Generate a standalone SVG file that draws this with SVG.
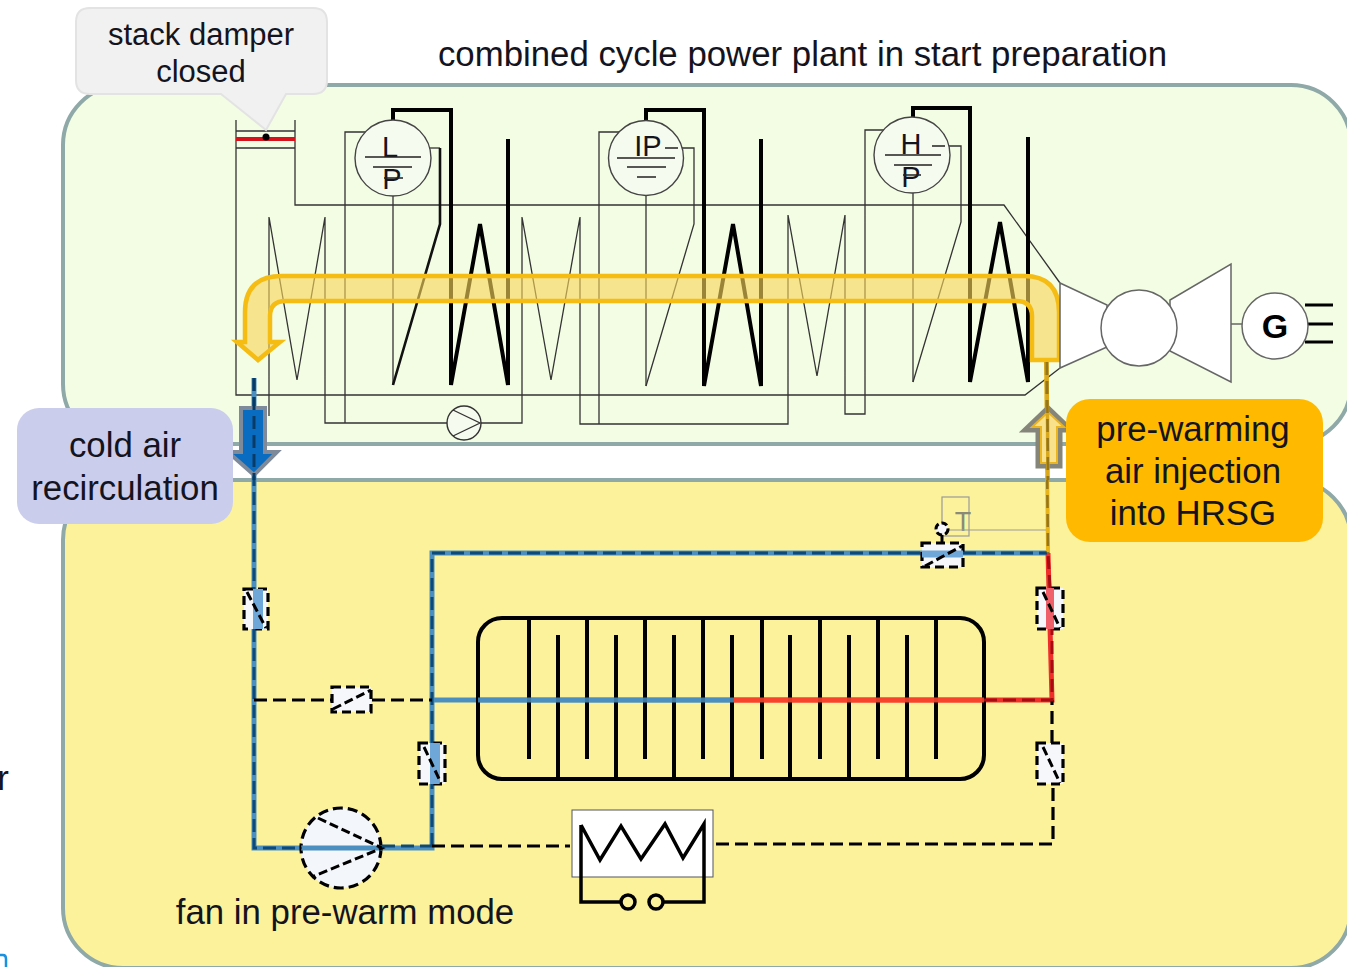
<svg xmlns="http://www.w3.org/2000/svg" width="1347" height="967" viewBox="0 0 1347 967">
<style>
text{font-family:"Liberation Sans",Arial,sans-serif;fill:#141420;text-anchor:middle}
.t{font-size:34.8px}
.call{font-size:31px}
.cap{font-size:29px}
.thin{fill:none;stroke:#333;stroke-width:1.3}
.thick{fill:none;stroke:#000;stroke-width:4}
.mid{fill:none;stroke:#111;stroke-width:2.6}
.bar{stroke:#222;stroke-width:1.3}
.dash{fill:none;stroke:#000;stroke-width:3.2;stroke-dasharray:13 6}
.db{fill:none;stroke:#0d4a78;stroke-width:3;stroke-dasharray:13 6}
.dr{fill:none;stroke:#a50d12;stroke-width:3;stroke-dasharray:13 6}
.dg{fill:none;stroke:#96761c;stroke-width:2.6;stroke-dasharray:13 6}
.blue{fill:none;stroke:#4a8fbf;stroke-width:5}
.red{fill:none;stroke:#ef2f2a;stroke-width:5}
.gold{fill:none;stroke:#e8b41c;stroke-width:4}
.dmp{fill:#f6f7fb;stroke:#000;stroke-width:3.2;stroke-dasharray:9 5}
.blade{fill:none;stroke:#000;stroke-width:3;stroke-dasharray:9 4}
.turb{fill:#fff;stroke:#666;stroke-width:1.5}
.circ{fill:#f6fbef;stroke:#444;stroke-width:1.4}
</style>
<rect width="1347" height="967" fill="#fff"/>

<g id="hrsg-panel"><rect x="63" y="85" width="1288" height="359" rx="60" fill="#f2fde4" stroke="#8fa8a8" stroke-width="4"/></g>
<g id="preheat-panel"><rect x="63" y="480" width="1288" height="488" rx="60" fill="#fdf29c" stroke="#8fa8a8" stroke-width="4"/></g>
<text x="3" y="790" class="t">r</text>
<path d="M0,955 H3 Q6,955 6,959 V967" fill="none" stroke="#1a90e0" stroke-width="2.5"/>

<g id="connectors">
  <path class="thin" d="M236,120 V395 H1025 L1060,368"/>
  <path class="thin" d="M295,120 V205 H1004 L1060,283"/>
  <path class="thin" d="M269,416 V217 L297,380 L325,217 V423 H448"/>
  <path class="thin" d="M367,132 H345 V423"/>
  <path class="thin" d="M481,423 H522 V217 L551,380 L580,217 V424 H788 V215 L817,376 L845,215 V414 H865 V130 H884"/>
  <path class="thin" d="M393,195 V385"/>
  <path class="thin" d="M412,148 H440"/>
  <path class="mid" d="M440,148 V224 L393,385"/>
  <path class="thick" d="M393,120 V110 H451 V385 L480,224 L508,385 V139"/>
  <path class="thin" d="M619,132 H599 V424"/>
  <path class="thin" d="M646,195 V386"/>
  <path class="thin" d="M665,148 H694 V224 L646,386"/>
  <path class="thick" d="M646,120 V110 H704 V386 L733,224 L761,386 V139"/>
  <path class="thin" d="M913,193 V382"/>
  <path class="thin" d="M932,146 H961 V222 L913,382"/>
  <path class="thick" d="M913,117 V108 H970 V382 L1000,222 L1028,382 V137"/>
  <path class="blue" d="M254,378 V848 H432 V553 H1047"/>
  <path class="blue" d="M432,700 H733"/>
  <path class="red" d="M733,700 H1052 L1048,553"/>
  <path class="gold" d="M1046,360 L1048,553"/>
</g>

<g id="flow-arrow"><path d="M1032,360 V316 Q1032,301 1016,301 H286 Q270,301 270,316 V342 H280 L258,360 L237,342 H245 V312 Q245,276 282,276 H1024 Q1059,276 1059,312 V360 Z" fill="#f8d55a" fill-opacity=".62" stroke="#f5bc14" stroke-width="4.500" stroke-linejoin="miter"/></g>

<g id="damper-stack">
  <path class="thin" d="M236,131 H295 M236,148 H295"/>
  <path d="M236,139 H295" stroke="#d8121c" stroke-width="4" fill="none"/>
  <circle cx="266" cy="137" r="3.5" fill="#000"/>
</g>
<g id="callout">
  <path d="M90,8 H313 Q327,8 327,22 V80 Q327,94 313,94 H286 L266,130 L221,94 H90 Q76,94 76,80 V22 Q76,8 90,8 Z" fill="#f1f1f1" stroke="#e3e3e3" stroke-width="2"/>
  <text x="201" y="45" class="call">stack damper</text>
  <text x="201" y="82" class="call">closed</text>
</g>
<text id="title" x="802.500" y="66" class="t">combined cycle power plant in start preparation</text>

<g id="lp-drum">
  <circle class="circ" cx="393" cy="158" r="38"/>
  <text x="390" y="157" class="cap">L</text>
  <text x="392" y="189" class="cap">P</text>
  <path class="bar" d="M365,157 H421 M373,167 H412 M384,178 H403"/>
</g>
<g id="ip-drum">
  <circle class="circ" cx="646" cy="158" r="37.500"/>
  <text x="648" y="156" class="cap">IP</text>
  <path class="bar" d="M617,158 H675 M627,167 H666 M637,177 H656 M665,148 H678"/>
</g>
<g id="hp-drum">
  <circle class="circ" cx="912" cy="155" r="38"/>
  <text x="911" y="154" class="cap">H</text>
  <text x="911" y="187" class="cap">P</text>
  <path class="bar" d="M885,155 H941 M894,165 H932 M903,175 H921 M932,146 H945"/>
</g>
<g id="pump">
  <circle cx="464" cy="423" r="17" fill="#f6fbef" stroke="#333" stroke-width="1.4"/>
  <path class="thin" d="M453,410 L480,423 L453,436"/>
</g>
<g id="turbine">
  <path class="turb" d="M1060,283 L1107,305 V347 L1060,368 Z"/>
  <path class="turb" d="M1231,264 V382 L1170,351 V300 Z"/>
  <circle class="turb" cx="1139" cy="328" r="38"/>
</g>
<g id="generator">
  <path d="M1231,324 H1243" stroke="#666" stroke-width="1.5"/>
  <path d="M1305,305 H1333 M1305,324 H1333 M1305,342 H1333" stroke="#000" stroke-width="3"/>
  <circle class="turb" cx="1275" cy="326" r="33"/>
  <text x="1275" y="338" font-size="34" font-weight="700" style="fill:#000">G</text>
</g>

<g id="heat-exchanger">
  <rect x="478" y="618" width="506" height="161" rx="24" fill="none" stroke="#000" stroke-width="4"/>
  <path d="M529,618 V759 M587,618 V759 M645,618 V759 M703,618 V759 M762,618 V759 M820,618 V759 M878,618 V759 M936,618 V759 M558,779 V635 M616,779 V635 M674,779 V635 M732,779 V635 M790,779 V635 M849,779 V635 M907,779 V635" stroke="#000" stroke-width="4" fill="none"/>
  <path d="M478,700 H733" stroke="#4a8fbf" stroke-width="5" stroke-opacity=".85"/>
  <path d="M733,700 H984" stroke="#f9452c" stroke-width="5" stroke-opacity=".9"/>
</g>

<g id="dampers-lower">
  <g id="damper-1">
    <rect class="dmp" x="244" y="589" width="24" height="40"/>
    <path d="M258,589 V629" stroke="#6fa8d8" stroke-width="10"/>
    <path class="blade" d="M247,592 L266,628"/>
  </g>
  <g id="damper-2">
    <rect class="dmp" x="332" y="687" width="39" height="25"/>
    <path class="blade" d="M333,709 L371,690"/>
  </g>
  <g id="damper-3">
    <rect class="dmp" x="419" y="743" width="26" height="41"/>
    <path d="M435,743 V784" stroke="#6fa8d8" stroke-width="10"/>
    <path class="blade" d="M424,747 L441,783"/>
  </g>
  <g id="damper-4">
    <rect class="dmp" x="922" y="543" width="41" height="24"/>
    <path d="M922,554 H963" stroke="#6fa8d8" stroke-width="7"/>
    <path class="blade" d="M925,566 L962,546"/>
  </g>
  <g id="damper-5">
    <rect class="dmp" x="1037" y="588" width="26" height="41"/>
    <path d="M1050,588 V629" stroke="#f0606a" stroke-width="8"/>
    <path class="blade" d="M1043,592 L1060,628"/>
  </g>
  <g id="damper-6">
    <rect class="dmp" x="1037" y="743" width="26" height="41"/>
    <path class="blade" d="M1043,747 L1060,783"/>
  </g>
</g>

<g id="fan">
  <circle cx="341" cy="848" r="40" fill="#f3f6fb" stroke="#000" stroke-width="3.2" stroke-dasharray="10 5"/>
  <path d="M301,848 H382" stroke="#4a8fbf" stroke-width="5"/>
  <path class="blade" d="M318,818 L382,848 L312,877"/>
</g>

<g id="heater">
  <rect x="572" y="810" width="141" height="67" fill="#fff" stroke="#555" stroke-width="1"/>
  <path d="M581,825 L600,860 L621,826 L641,859 L665,824 L683,858 L704,824 V902 H663 M621,902 H581 V825" fill="none" stroke="#000" stroke-width="3.500"/>
  <circle cx="628" cy="902" r="7" fill="none" stroke="#000" stroke-width="3.500"/>
  <circle cx="656" cy="902" r="7" fill="none" stroke="#000" stroke-width="3.500"/>
</g>

<g id="control">
  <rect x="942" y="497" width="27" height="39" fill="none" stroke="#999" stroke-width="1.2"/>
  <text x="963" y="531" font-size="27" style="fill:#8a8a78">T</text>
  <path d="M948,530 H1046" stroke="#999" stroke-width="1.2"/>
  <path d="M942,535 V543" stroke="#000" stroke-width="3"/>
  <circle cx="942" cy="529" r="6" fill="#f6f7fb" stroke="#000" stroke-width="3" stroke-dasharray="6 3"/>
</g>

<g id="connector-dashes">
  <path class="db" d="M254,378 V589 M254,629 V848 H302 M382,846 H432 M432,846 V784 M432,743 V553 H922 M963,553 H1047"/>
  <path class="dash" d="M254,700 H332 M372,700 H432 M432,846 H570 M716,844 H1053 V784 M1052,743 V700"/>
  <path class="dr" d="M984,700 H1052 V629 M1050,588 L1048,553"/>
  <path class="dg" d="M1046,362 L1048,553"/>
</g>

<g id="arrow-out">
  <path d="M241,408 H265 V452 H277 L254,475 L228,452 H241 Z" fill="#0a6cc0" stroke="#7e8a99" stroke-width="4"/>
  <path class="db" style="stroke:#083a66" d="M254,378 V480"/>
</g>
<g id="arrow-in">
  <path d="M1038,466 H1060 V430 H1071 L1048,408 L1025,430 H1038 Z" fill="#f9e08a" stroke="#85857a" stroke-width="5"/>
  <path d="M1041,463 H1057 V427 H1064 L1048,412 L1032,427 H1041 Z" fill="none" stroke="#eab420" stroke-width="2"/>
  <path d="M1047,362 L1048,480" fill="none" stroke="#d9a81c" stroke-width="3.500"/>
  <path class="dg" d="M1047,362 L1048,480"/>
</g>

<g id="label-cold">
  <rect x="17" y="408" width="216" height="116" rx="22" fill="#cbcdec"/>
  <text x="125" y="457" class="t">cold air</text>
  <text x="125" y="500" class="t">recirculation</text>
</g>
<g id="label-warm">
  <rect x="1066" y="399" width="257" height="143" rx="24" fill="#ffba00"/>
  <text x="1193" y="441" class="t">pre-warming</text>
  <text x="1193" y="483" class="t">air injection</text>
  <text x="1193" y="525" class="t">into HRSG</text>
</g>
<text id="fan-label" x="345" y="924" class="t">fan in pre-warm mode</text>
</svg>
